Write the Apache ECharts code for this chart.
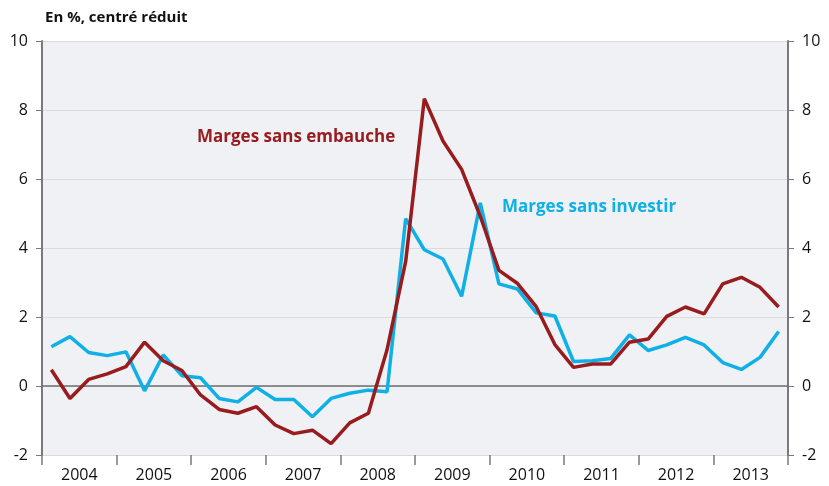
<!DOCTYPE html>
<html>
<head>
<meta charset="utf-8">
<script src="https://cdn.jsdelivr.net/npm/echarts@6/dist/echarts.min.js"></script>
<style>
  html, body { margin: 0; padding: 0; background: #fff; }
  #chart { width: 829px; height: 486px; }
</style>
</head>
<body>
<div id="chart"></div>
<script>
// years shown on the x axis, data is quarterly
var years = ['2004', '2005', '2006', '2007', '2008', '2009', '2010', '2011', '2012', '2013'];
var quarterNames = ['T1', 'T2', 'T3', 'T4'];

// Marges sans investir (blue)
var margesSansInvestir = [
  1.14, 1.43, 0.97, 0.88, 0.99, -0.14, 0.90, 0.30, 0.24, -0.36,
  -0.46, -0.04, -0.39, -0.39, -0.89, -0.36, -0.21, -0.12, -0.17, 4.85,
  3.95, 3.68, 2.60, 5.31, 2.96, 2.81, 2.12, 2.03, 0.71, 0.73,
  0.80, 1.48, 1.03, 1.19, 1.41, 1.19, 0.68, 0.48, 0.83, 1.58
];

// Marges sans embauche (dark red)
var margesSansEmbauche = [
  0.47, -0.36, 0.19, 0.35, 0.56, 1.27, 0.73, 0.45, -0.26, -0.68,
  -0.79, -0.60, -1.13, -1.38, -1.28, -1.67, -1.07, -0.79, 1.05, 3.61,
  8.33, 7.10, 6.28, 4.92, 3.35, 2.97, 2.30, 1.20, 0.54, 0.64,
  0.64, 1.27, 1.36, 2.02, 2.29, 2.09, 2.96, 3.15, 2.86, 2.29
];

var quarters = [];
years.forEach(function (y) {
  quarterNames.forEach(function (q) { quarters.push(y + ' ' + q); });
});

var font = '"Open Sans", "Noto Sans", sans-serif';
var blue = '#0fb0e6';
var red = '#981b1e';
var axisGrey = '#7a7a7a';

var chart = echarts.init(document.getElementById('chart'));

var yAxisCommon = {
  type: 'value',
  min: -2,
  max: 10,
  interval: 2,
  axisLine: { show: true, lineStyle: { color: axisGrey, width: 2 } },
  axisTick: { show: true, length: 6, lineStyle: { color: axisGrey } },
  splitLine: { show: true, lineStyle: { color: '#d9dbde', width: 1 } },
  axisLabel: { color: '#111', fontSize: 16, fontFamily: font, margin: 14 }
};

chart.setOption({
  animation: false,
  backgroundColor: '#ffffff',
  title: {
    text: 'En %, centré réduit',
    left: 40,
    top: 5,
    textStyle: { fontSize: 15, fontWeight: 'bold', color: '#111', fontFamily: font }
  },
  grid: {
    left: 42, right: 41, top: 41, bottom: 31,
    show: true,
    backgroundColor: '#eff1f4',
    borderWidth: 0
  },
  xAxis: [
    {
      type: 'category',
      data: quarters,
      boundaryGap: true,
      axisLine: { show: false, onZero: false },
      axisTick: { show: false },
      axisLabel: { show: false },
      splitLine: { show: false }
    },
    {
      type: 'category',
      data: years,
      position: 'bottom',
      boundaryGap: true,
      axisLine: { show: false, onZero: false },
      axisTick: { show: true, length: 10, lineStyle: { color: axisGrey, width: 1.5 } },
      axisLabel: { color: '#111', fontSize: 16, fontFamily: font, margin: 12 },
      splitLine: { show: false }
    }
  ],
  yAxis: [
    Object.assign({ position: 'left' }, yAxisCommon),
    Object.assign({ position: 'right' }, yAxisCommon, { splitLine: { show: false } })
  ],
  series: [
    {
      name: 'Marges sans investir',
      type: 'line',
      xAxisIndex: 0,
      yAxisIndex: 0,
      data: margesSansInvestir,
      symbol: 'none',
      lineStyle: { color: blue, width: 3.5 },
      z: 3,
      markLine: {
        silent: true,
        symbol: 'none',
        label: { show: false },
        lineStyle: { color: '#6e6e6e', width: 1.5, type: 'solid' },
        data: [{ yAxis: 0 }],
        z: 1
      }
    },
    {
      name: 'Marges sans embauche',
      type: 'line',
      xAxisIndex: 0,
      yAxisIndex: 0,
      data: margesSansEmbauche,
      symbol: 'none',
      lineStyle: { color: red, width: 3.5 },
      z: 4
    }
  ],
  graphic: [
    {
      type: 'text',
      left: 197,
      top: 129,
      style: { text: 'Marges sans embauche', fill: red, font: 'bold 17px ' + font }
    },
    {
      type: 'text',
      left: 502,
      top: 199,
      style: { text: 'Marges sans investir', fill: blue, font: 'bold 17px ' + font }
    }
  ]
});
</script>
</body>
</html>
